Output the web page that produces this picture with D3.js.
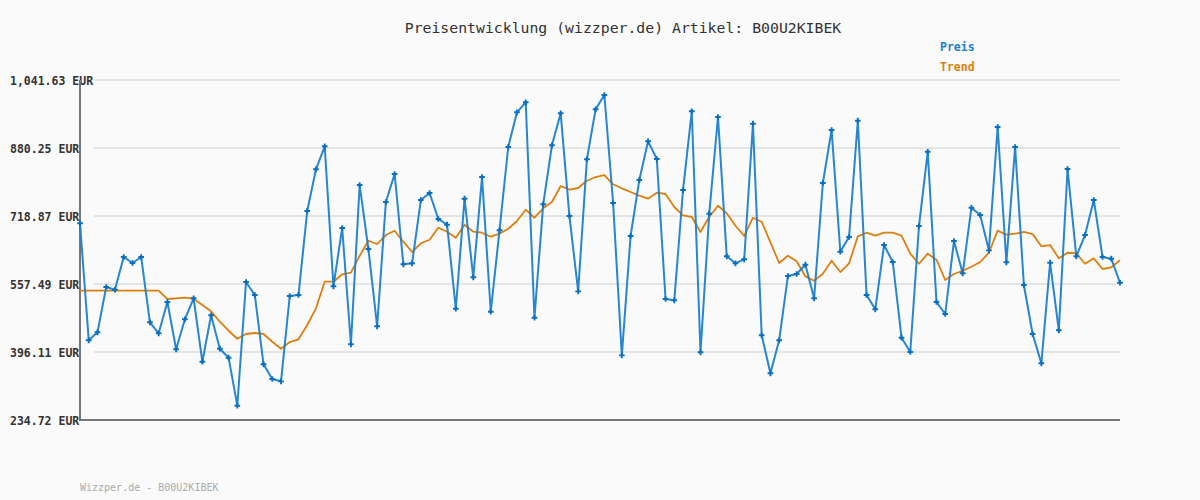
<!DOCTYPE html>
<html><head><meta charset="utf-8">
<script src="https://cdn.jsdelivr.net/npm/d3@7"></script>
<style>
html,body{margin:0;padding:0;background:#fafafa;}
svg{display:block;}
</style></head>
<body>
<svg id="chart" width="1200" height="500"></svg>
<script>
const titleText = "Preisentwicklung (wizzper.de) Artikel: B00U2KIBEK";
const footerText = "Wizzper.de - B00U2KIBEK";
const seriesNames = ["Preis", "Trend"];
const tickValues = [234.72, 396.11, 557.49, 718.87, 880.25, 1041.63];

const price = [
 701.5,423.9,442.8,550.4,543.9,621.6,607.3,621.6,466.6,440.5,
 514.8,402.5,473.7,523.5,373.1,483.2,403.9,382.6,268.7,562.2,
 531.4,366.9,332.0,326.5,529.0,531.4,730.7,829.7,884.3,552.0,
 690.4,414.4,792.4,640.5,457.1,752.1,818.5,604.2,606.6,756.8,
 773.4,711.7,698.2,498.8,759.9,573.4,811.4,491.7,684.9,882.6,
 965.0,988.7,477.5,746.6,886.6,962.6,718.9,540.1,853.4,972.1,
 1006.0,749.7,388.2,671.4,804.3,896.1,854.1,521.9,518.8,780.5,
 967.3,395.4,724.3,953.8,623.2,606.6,616.1,937.9,435.7,345.5,
 423.9,576.4,581.2,603.3,523.5,797.2,922.9,634.1,669.0,945.0,
 531.4,497.4,650.0,609.7,430.0,396.1,695.1,871.4,514.8,486.3,
 659.5,582.9,738.5,721.2,637.4,930.1,609.0,882.6,555.1,438.8,
 369.3,608.0,447.6,830.4,623.2,673.7,756.8,621.6,617.5,560.5
];

const trend = [
 541.6,541.6,541.6,541.6,541.6,541.6,541.6,541.6,541.6,541.6,
 521.9,523.5,525.0,522.6,507.6,492.7,468.0,446.6,427.6,438.8,
 441.2,438.8,420.5,403.9,419.8,426.2,460.2,499.8,562.9,562.9,
 580.5,584.3,624.6,660.2,652.4,673.7,684.0,657.9,633.4,654.1,
 662.6,691.1,681.6,667.4,698.2,681.6,679.2,669.7,676.8,688.7,
 707.0,733.8,714.8,737.1,752.1,790.0,781.3,785.3,802.6,811.4,
 816.1,794.1,784.6,775.8,767.0,759.9,774.1,771.1,740.2,720.5,
 716.5,680.9,717.2,743.3,725.3,695.8,671.4,714.8,705.3,656.4,
 607.3,624.6,611.3,575.7,565.3,581.9,612.8,585.9,606.6,670.7,
 679.2,672.1,679.2,679.2,672.1,629.4,605.6,629.4,615.1,567.0,
 581.2,589.0,598.5,609.7,631.7,684.0,674.5,676.8,680.9,676.1,
 646.9,650.0,618.4,631.7,630.3,605.6,618.4,593.1,597.1,613.7
];

(function () {
const svg = d3.select("#chart");
const W = 1200, H = 500;
const mLeft = 80, mRight = 1120, mTop = 80, mBottom = 420;
const blue = "#1b7fcc", blueDark = "#0b6fc0", orange = "#dd7f10";
const mono = "'DejaVu Sans Mono', 'Liberation Mono', monospace";

svg.append("rect").attr("width", W).attr("height", H).attr("fill", "#fafafa");

const x = d3.scaleLinear().domain([0, price.length - 1]).range([mLeft, mRight]);
const y = d3.scaleLinear().domain([tickValues[0], tickValues[tickValues.length - 1]]).range([mBottom, mTop]);
const fmt = d3.format(",.2f");

// grid
svg.append("g").selectAll("line").data(tickValues.slice(1)).join("line")
  .attr("x1", 94).attr("x2", mRight)
  .attr("y1", d => y(d)).attr("y2", d => y(d))
  .attr("stroke", "#e4e4e4").attr("stroke-width", 2);

// y axis labels
const yAxis = d3.axisLeft(y).tickValues(tickValues).tickSize(0).tickFormat(d => fmt(d) + " EUR");
const gy = svg.append("g").attr("transform", `translate(${mLeft},0)`).call(yAxis);
gy.select(".domain").remove();
gy.selectAll("text")
  .attr("x", 10 - mLeft).attr("dy", "0.35em").attr("text-anchor", "start")
  .attr("font-family", mono).attr("font-size", 11.5).attr("font-weight", "bold").attr("fill", "#333");

// axes lines
svg.append("line").attr("x1", mLeft).attr("x2", mLeft).attr("y1", mTop).attr("y2", mBottom + 1)
  .attr("stroke", "#777").attr("stroke-width", 2);
svg.append("line").attr("x1", mLeft - 1).attr("x2", mRight).attr("y1", mBottom).attr("y2", mBottom)
  .attr("stroke", "#777").attr("stroke-width", 2);

const line = d3.line().x((d, i) => x(i)).y(d => y(d));

svg.append("path").datum(trend).attr("d", line)
  .attr("fill", "none").attr("stroke", orange).attr("stroke-width", 1.8).attr("stroke-linejoin", "round");

svg.append("path").datum(price).attr("d", line)
  .attr("fill", "none").attr("stroke", blue).attr("stroke-width", 2).attr("stroke-linejoin", "round").attr("opacity", 0.95);

svg.append("g").selectAll("path").data(price).join("path")
  .attr("transform", (d, i) => `translate(${x(i)},${y(d)})`)
  .attr("d", d3.symbol(d3.symbolCross, 18))
  .attr("fill", blueDark);

// title
svg.append("text").attr("x", 623).attr("y", 33).attr("text-anchor", "middle")
  .attr("font-family", mono).attr("font-size", 14.8).attr("fill", "#333").text(titleText);

// legend
const legendColors = [blue, orange];
svg.append("g").selectAll("text").data(seriesNames).join("text")
  .attr("x", 940).attr("y", (d, i) => 51 + i * 20)
  .attr("font-family", mono).attr("font-size", 11.5).attr("font-weight", "bold")
  .attr("fill", (d, i) => legendColors[i]).text(d => d);

// footer
svg.append("text").attr("x", 80).attr("y", 491)
  .attr("font-family", mono).attr("font-size", 10).attr("fill", "#aaa").text(footerText);
})();
</script>
</body></html>
